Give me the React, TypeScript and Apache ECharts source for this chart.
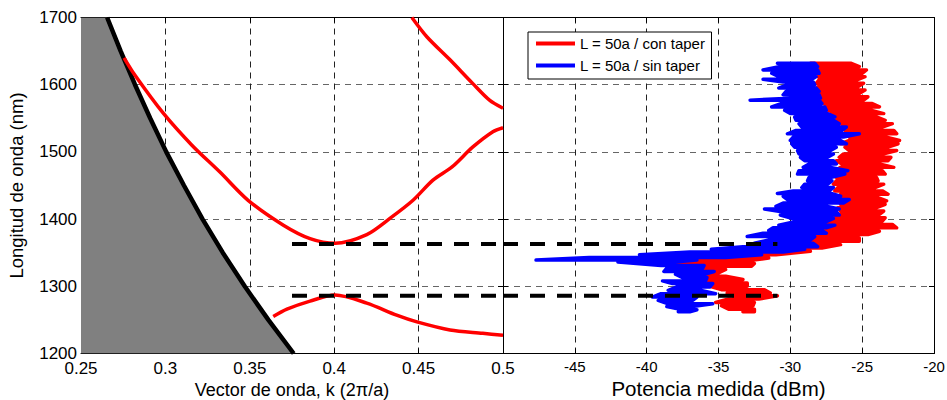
import React, { useEffect, useRef } from "react";
import * as echarts from "echarts";

// ---------- left panel: band diagram ----------
const lightLineK = [0.2655, 0.2735, 0.282, 0.291, 0.3005, 0.311, 0.322, 0.334, 0.347, 0.361, 0.376];
const lightLineL = [1700, 1650, 1600, 1550, 1500, 1450, 1400, 1350, 1300, 1250, 1200];

const bandAK = [0.2755, 0.282, 0.2986, 0.3157, 0.3323, 0.349, 0.3699, 0.3857, 0.4005, 0.4193, 0.433, 0.4467, 0.4585, 0.470, 0.482, 0.494, 0.5];
const bandAL = [1640, 1614, 1558, 1510, 1470, 1428, 1391, 1371, 1364, 1377, 1401, 1428, 1458, 1478, 1507, 1530, 1536];

const bandBK = [0.446, 0.455, 0.4686, 0.482, 0.492, 0.5];
const bandBL = [1700, 1671, 1637, 1602, 1577, 1565];

const bandCK = [0.3639, 0.372, 0.3857, 0.4005, 0.4193, 0.437, 0.449, 0.4686, 0.488, 0.5];
const bandCL = [1255, 1266, 1278, 1287, 1275, 1257, 1247, 1235, 1230, 1227];

const edgeLevels = [1363, 1286];
const edgeLeftK = [0.375, 0.5];
const edgeRightP = [-50, -30.9];

// ---------- right panel: measured power ----------
const redLam = [1632, 1627, 1622, 1617, 1612, 1607, 1602, 1597, 1592, 1587, 1582, 1577, 1572, 1567, 1562, 1557, 1552, 1547, 1542, 1537, 1532, 1527, 1522, 1517, 1512, 1507, 1502, 1497, 1492, 1487, 1482, 1477, 1472, 1467, 1462, 1457, 1452, 1447, 1442, 1437, 1432, 1427, 1422, 1417, 1412, 1407, 1402, 1397, 1392, 1387, 1382, 1377, 1372, 1367, 1362, 1357, 1352, 1347, 1342, 1338, 1334, 1330, 1325, 1320, 1315, 1310, 1305, 1300, 1295, 1290, 1286, 1281, 1276, 1271, 1266, 1262];
const redLo = [-28.6, -28.3, -28.1, -28.0, -28.1, -28.0, -28.2, -28.1, -28.0, -27.9, -27.9, -27.8, -27.7, -27.6, -27.4, -27.2, -27.0, -26.8, -26.6, -26.4, -26.2, -26.0, -25.9, -25.9, -26.5, -26.2, -25.9, -26.3, -26.6, -26.8, -26.4, -26.5, -26.9, -27.1, -26.8, -26.8, -27.0, -26.7, -26.9, -26.5, -26.6, -26.4, -26.5, -26.7, -26.5, -26.8, -26.9, -27.0, -27.5, -27.7, -27.5, -28.0, -28.8, -29.0, -29.3, -29.6, -31.0, -39.0, -39.0, -38.9, -38.0, -37.6, -36.5, -37.5, -36.8, -37.0, -35.8, -35.6, -34.8, -34.4, -34.0, -34.3, -35.2, -34.8, -34.3, -33.3];
const redHi = [-25.8, -25.2, -24.7, -25.0, -24.8, -25.4, -24.9, -25.3, -24.8, -25.2, -24.6, -24.9, -24.3, -23.8, -24.4, -23.5, -24.0, -23.4, -22.9, -23.6, -22.8, -22.6, -23.3, -22.4, -22.5, -23.2, -22.6, -23.5, -23.0, -23.2, -23.8, -22.8, -23.6, -23.4, -24.0, -23.9, -23.5, -24.1, -23.6, -23.2, -23.9, -23.3, -23.4, -24.0, -23.5, -23.8, -23.4, -23.6, -22.9, -22.6, -23.8, -24.6, -25.2, -25.2, -26.5, -27.8, -28.6, -31.0, -31.5, -33.0, -32.5, -32.7, -34.5, -35.0, -34.5, -33.3, -33.0, -33.0, -31.8, -31.4, -30.9, -32.2, -32.5, -32.6, -32.5, -32.5];

const blueLam = [1632, 1627, 1622, 1617, 1612, 1608, 1604, 1600, 1595, 1590, 1585, 1580, 1577, 1572, 1567, 1562, 1557, 1552, 1547, 1542, 1537, 1532, 1527, 1522, 1517, 1512, 1507, 1502, 1497, 1492, 1487, 1482, 1477, 1472, 1467, 1462, 1457, 1452, 1447, 1442, 1438, 1434, 1429, 1424, 1419, 1415, 1411, 1406, 1401, 1396, 1391, 1387, 1383, 1379, 1374, 1369, 1364, 1359, 1355, 1351, 1347, 1343, 1339, 1336, 1331, 1327, 1322, 1318, 1313, 1308, 1304, 1299, 1294, 1289, 1284, 1279, 1274, 1270, 1265, 1262];
const blueLo = [-30.9, -30.7, -31.9, -31.3, -30.8, -31.9, -30.5, -30.2, -30.8, -30.3, -30.5, -30.0, -32.8, -30.6, -31.3, -30.4, -30.0, -29.7, -29.6, -29.4, -29.2, -29.6, -30.2, -29.8, -30.0, -29.9, -29.7, -29.5, -29.4, -29.3, -29.0, -28.7, -29.1, -29.4, -29.5, -28.7, -28.8, -29.0, -29.2, -29.8, -30.9, -30.5, -30.2, -30.5, -31.0, -31.8, -30.6, -30.7, -29.9, -29.7, -30.8, -31.2, -31.5, -31.9, -33.0, -31.5, -32.5, -33.3, -35.5, -37.0, -40.5, -44.0, -47.7, -42.0, -39.0, -38.6, -38.8, -38.0, -37.5, -38.9, -38.2, -37.9, -38.5, -39.0, -39.6, -39.2, -38.5, -38.6, -37.5, -37.8];
const blueHi = [-28.3, -28.1, -28.1, -28.0, -28.2, -28.5, -28.4, -28.3, -28.2, -28.0, -28.0, -27.9, -28.0, -27.8, -27.6, -27.5, -27.4, -26.9, -27.0, -26.6, -26.1, -26.4, -25.2, -26.3, -26.5, -26.1, -26.8, -27.2, -27.0, -27.4, -27.0, -26.8, -27.2, -26.0, -26.2, -27.2, -27.1, -27.4, -27.0, -27.3, -27.1, -26.5, -25.9, -26.3, -27.5, -26.6, -26.8, -26.6, -27.0, -27.5, -26.9, -27.5, -27.8, -27.5, -28.3, -28.6, -28.4, -28.1, -29.0, -30.5, -32.0, -34.5, -36.5, -38.0, -36.0, -36.1, -35.3, -36.0, -35.8, -35.9, -35.4, -35.6, -36.2, -35.2, -36.5, -36.8, -35.4, -36.8, -36.5, -37.0];

const rightTicksX = [-50, -45, -40, -35, -30, -25, -20];

const FONT = "'Liberation Sans', Arial, Helvetica, sans-serif";

function zip(a: number[], b: number[]) {
  return a.map((v, i) => [v, b[i]]);
}

function snake(lam: number[], lo: number[], hi: number[]) {
  const out: number[][] = [];
  lam.forEach((l, i) => {
    if (i % 2 === 0) {
      out.push([lo[i], l]);
      out.push([hi[i], l]);
    } else {
      out.push([hi[i], l]);
      out.push([lo[i], l]);
    }
  });
  return out;
}

export default function App() {
  const ref = useRef<HTMLDivElement>(null);
  useEffect(() => {
    if (!ref.current) return;
    const chart = echarts.init(ref.current, undefined, { renderer: "svg" });

    const frameAxis = (extra: any) => ({
      axisLine: { show: true, onZero: false, lineStyle: { color: "#000", width: 1 } },
      axisTick: { show: true, inside: true, length: 5, lineStyle: { color: "#000" } },
      axisLabel: { show: false },
      splitLine: { show: false },
      ...extra,
    });

    const fillData = [[0.25, 1700], ...zip(lightLineK, lightLineL)];

    const dashed = (xi: number, yi: number, xs: number[], lvl: number) => ({
      type: "line",
      xAxisIndex: xi,
      yAxisIndex: yi,
      data: [[xs[0], lvl], [xs[1], lvl]],
      symbol: "none",
      silent: true,
      z: 10,
      lineStyle: { color: "#000", width: 4, type: [15, 12] },
    });

    const legendIcon = "path://M0,0 L39,0 L39,4 L0,4 Z";

    const option: any = {
      animation: false,
      backgroundColor: "#fff",
      textStyle: { fontFamily: FONT },
      grid: [
        { left: 81, top: 17.5, width: 422, height: 336, outerBoundsMode: "none", containLabel: false },
        { left: 503, top: 17.5, width: 431, height: 336, outerBoundsMode: "none", containLabel: false },
      ],
      legend: {
        data: [
          { name: "L = 50a / con taper", icon: legendIcon },
          { name: "L = 50a / sin taper", icon: legendIcon },
        ],
        orient: "vertical",
        left: 528,
        top: 32,
        padding: [4, 6, 6, 8],
        itemGap: 7,
        itemWidth: 39,
        itemHeight: 14,
        borderColor: "#000",
        borderWidth: 1,
        borderRadius: 0,
        backgroundColor: "#fff",
        textStyle: { fontSize: 15, color: "#000", fontFamily: FONT },
      },
      xAxis: [
        {
          type: "value", gridIndex: 0, min: 0.25, max: 0.5, interval: 0.05, position: "bottom",
          axisLine: { show: true, onZero: false, lineStyle: { color: "#000" } },
          axisTick: { show: true, inside: true, length: 5, lineStyle: { color: "#000" } },
          axisLabel: { show: true, fontSize: 17, color: "#000", margin: 6, fontFamily: FONT },
          splitLine: { show: true, lineStyle: { color: "#222", type: [6, 5], width: 1 } },
          name: "Vector de onda, k (2π/a)", nameLocation: "middle", nameGap: 24,
          nameTextStyle: { fontSize: 18, color: "#000", fontFamily: FONT },
        },
        frameAxis({ type: "value", gridIndex: 0, min: 0.25, max: 0.5, interval: 0.05, position: "top" }),
        {
          type: "value", gridIndex: 1, min: -50, max: -20, interval: 5, position: "bottom",
          axisLine: { show: true, onZero: false, lineStyle: { color: "#000" } },
          axisTick: { show: true, inside: true, length: 5, lineStyle: { color: "#000" } },
          axisLabel: {
            show: true, fontSize: 15, color: "#000", margin: 5, fontFamily: FONT,
            formatter: (v: number) => (v === rightTicksX[0] ? "" : String(v)),
          },
          splitLine: { show: true, lineStyle: { color: "#222", type: [6, 5], width: 1 } },
          name: "Potencia medida (dBm)", nameLocation: "middle", nameGap: 22,
          nameTextStyle: { fontSize: 20.5, color: "#000", fontFamily: FONT },
        },
        frameAxis({ type: "value", gridIndex: 1, min: -50, max: -20, interval: 5, position: "top" }),
      ],
      yAxis: [
        {
          type: "value", gridIndex: 0, min: 1200, max: 1700, interval: 100, position: "left",
          axisLine: { show: true, onZero: false, lineStyle: { color: "#000" } },
          axisTick: { show: true, inside: true, length: 5, lineStyle: { color: "#000" } },
          axisLabel: {
            show: true, fontSize: 17, color: "#000", margin: 4, fontFamily: FONT,
            formatter: (v: number) => String(v),
          },
          splitLine: { show: true, lineStyle: { color: "#666", type: [6, 5], width: 1 } },
          name: "Longitud de onda (nm)", nameLocation: "middle", nameGap: 55,
          nameTextStyle: { fontSize: 18.5, color: "#000", fontFamily: FONT },
        },
        frameAxis({ type: "value", gridIndex: 0, min: 1200, max: 1700, interval: 100, position: "right" }),
        {
          type: "value", gridIndex: 1, min: 1200, max: 1700, interval: 100, position: "left",
          axisLine: { show: true, onZero: false, lineStyle: { color: "#000" } },
          axisTick: { show: true, inside: true, length: 5, lineStyle: { color: "#000" } },
          axisLabel: { show: false },
          splitLine: { show: true, lineStyle: { color: "#666", type: [6, 5], width: 1 } },
        },
        frameAxis({ type: "value", gridIndex: 1, min: 1200, max: 1700, interval: 100, position: "right" }),
      ],
      series: [
        {
          name: "lightFill", type: "line", xAxisIndex: 0, yAxisIndex: 0, data: fillData,
          symbol: "none", silent: true, z: 1,
          lineStyle: { width: 0, opacity: 0 },
          areaStyle: { color: "#808080", opacity: 1, origin: "start" },
        },
        {
          name: "lightLine", type: "line", xAxisIndex: 0, yAxisIndex: 0, data: zip(lightLineK, lightLineL),
          symbol: "none", silent: true, z: 3,
          lineStyle: { color: "#000", width: 4.5 },
        },
        ...[zip(bandAK, bandAL), zip(bandBK, bandBL), zip(bandCK, bandCL)].map((d) => ({
          type: "line", xAxisIndex: 0, yAxisIndex: 0, data: d, symbol: "none", silent: true,
          smooth: 0.3, z: 4, lineStyle: { color: "#ff0000", width: 3.5 },
        })),
        {
          name: "L = 50a / con taper", type: "line", xAxisIndex: 2, yAxisIndex: 2,
          data: snake(redLam, redLo, redHi), symbol: "none", silent: true, z: 4,
          color: "#ff0000", itemStyle: { color: "#ff0000" },
          lineStyle: { color: "#ff0000", width: 3.5, cap: "round", join: "round" },
        },
        {
          name: "L = 50a / sin taper", type: "line", xAxisIndex: 2, yAxisIndex: 2,
          data: snake(blueLam, blueLo, blueHi), symbol: "none", silent: true, z: 5,
          color: "#0000ff", itemStyle: { color: "#0000ff" },
          lineStyle: { color: "#0000ff", width: 3.5, cap: "round", join: "round" },
        },
        ...edgeLevels.map((l) => dashed(0, 0, edgeLeftK, l)),
        ...edgeLevels.map((l) => dashed(2, 2, edgeRightP, l)),
      ],
    };
    chart.setOption(option);
    return () => chart.dispose();
  }, []);
  return (
    <div
      ref={ref}
      style={{ position: "fixed", left: 0, top: 0, width: 947, height: 400, background: "#fff" }}
    />
  );
}
